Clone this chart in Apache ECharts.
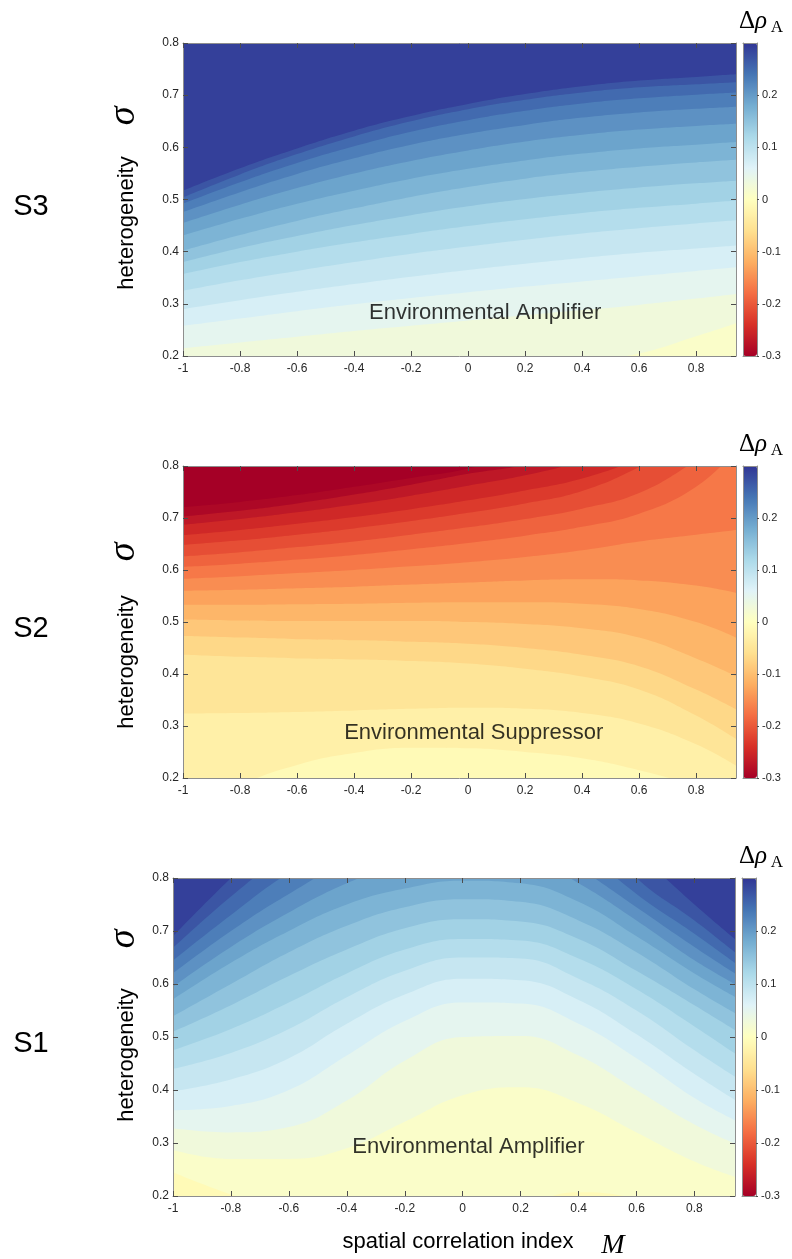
<!DOCTYPE html>
<html>
<head>
<meta charset="utf-8">
<script src="https://cdn.jsdelivr.net/npm/echarts@6/dist/echarts.min.js"></script>
<style>
  html, body { margin: 0; padding: 0; background: #fff; }
  #chart { width: 792px; height: 1259px; }
</style>
</head>
<body>
<div id="chart"></div>
<script>
// spatial correlation index M where each contour line is sampled
const mValues = [-1, -0.8, -0.6, -0.4, -0.2, 0, 0.2, 0.4, 0.6, 0.8, 0.94];
const xTicks = [-1, -0.8, -0.6, -0.4, -0.2, 0, 0.2, 0.4, 0.6, 0.8];
const yTicks = [0.2, 0.3, 0.4, 0.5, 0.6, 0.7, 0.8];
const cbTicks = [-0.3, -0.2, -0.1, 0, 0.1, 0.2];

// S3: contour levels of delta rho_A and the sigma of each level line at mValues
const s3Levels = [0.02, 0.04, 0.06, 0.08, 0.10, 0.12, 0.14, 0.16, 0.18, 0.20, 0.22, 0.24, 0.26, 0.28];
const s3Lines = [
  [0.08, 0.10, 0.12, 0.14, 0.155, 0.17, 0.18, 0.19, 0.205, 0.238, 0.263],
  [0.215, 0.226, 0.237, 0.248, 0.258, 0.268, 0.278, 0.288, 0.298, 0.31, 0.319],
  [0.258, 0.272, 0.286, 0.299, 0.311, 0.322, 0.333, 0.343, 0.353, 0.363, 0.370],
  [0.290, 0.307, 0.323, 0.338, 0.352, 0.365, 0.377, 0.388, 0.398, 0.406, 0.412],
  [0.325, 0.345, 0.363, 0.38, 0.396, 0.41, 0.423, 0.435, 0.445, 0.454, 0.460],
  [0.357, 0.38, 0.40, 0.418, 0.434, 0.449, 0.462, 0.474, 0.484, 0.492, 0.498],
  [0.380, 0.407, 0.43, 0.451, 0.47, 0.487, 0.501, 0.513, 0.523, 0.531, 0.536],
  [0.402, 0.432, 0.459, 0.483, 0.505, 0.524, 0.54, 0.553, 0.563, 0.571, 0.576],
  [0.431, 0.463, 0.492, 0.517, 0.54, 0.559, 0.575, 0.588, 0.598, 0.605, 0.610],
  [0.455, 0.49, 0.522, 0.55, 0.574, 0.594, 0.611, 0.624, 0.634, 0.641, 0.645],
  [0.476, 0.514, 0.549, 0.579, 0.605, 0.626, 0.643, 0.657, 0.667, 0.674, 0.678],
  [0.492, 0.533, 0.57, 0.602, 0.63, 0.652, 0.67, 0.684, 0.694, 0.701, 0.705],
  [0.504, 0.548, 0.587, 0.621, 0.65, 0.673, 0.691, 0.705, 0.715, 0.721, 0.725],
  [0.517, 0.56, 0.598, 0.632, 0.66, 0.683, 0.702, 0.717, 0.728, 0.735, 0.740]
];

// S2: levels run downwards, region above each line is more negative
const s2Levels = [-0.02, -0.04, -0.06, -0.08, -0.10, -0.12, -0.14, -0.16, -0.18, -0.20, -0.22, -0.24, -0.26, -0.28, -0.30];
const s2Lines = [
  [0.12, 0.185, 0.225, 0.248, 0.258, 0.257, 0.25, 0.238, 0.215, 0.185, 0.16],
  [0.324, 0.325, 0.327, 0.33, 0.333, 0.335, 0.333, 0.325, 0.305, 0.265, 0.224],
  [0.437, 0.433, 0.43, 0.428, 0.425, 0.42, 0.41, 0.395, 0.37, 0.32, 0.275],
  [0.473, 0.47, 0.467, 0.465, 0.462, 0.458, 0.45, 0.437, 0.415, 0.37, 0.332],
  [0.505, 0.503, 0.502, 0.502, 0.502, 0.5, 0.496, 0.488, 0.47, 0.43, 0.396],
  [0.533, 0.533, 0.534, 0.535, 0.537, 0.538, 0.538, 0.535, 0.525, 0.50, 0.470],
  [0.56, 0.562, 0.565, 0.568, 0.572, 0.576, 0.58, 0.582, 0.58, 0.57, 0.556],
  [0.583, 0.588, 0.594, 0.60, 0.607, 0.615, 0.625, 0.638, 0.655, 0.668, 0.677],
  [0.606, 0.612, 0.62, 0.629, 0.64, 0.652, 0.666, 0.683, 0.708, 0.76, 0.83],
  [0.626, 0.634, 0.644, 0.655, 0.668, 0.682, 0.698, 0.718, 0.748, 0.81, 0.86],
  [0.648, 0.657, 0.668, 0.68, 0.694, 0.71, 0.728, 0.752, 0.798, 0.86, 0.92],
  [0.667, 0.677, 0.689, 0.702, 0.717, 0.734, 0.753, 0.776, 0.815, 0.87, 0.93],
  [0.687, 0.698, 0.711, 0.726, 0.743, 0.762, 0.782, 0.81, 0.85, 0.9, 0.95],
  [0.703, 0.714, 0.728, 0.745, 0.764, 0.785, 0.802, 0.83, 0.87, 0.93, 1.0],
  [0.721, 0.731, 0.744, 0.76, 0.777, 0.795, 0.83, 0.88, 0.94, 1.0, 1.0]
];

// S1
const s1Levels = [0.00, 0.02, 0.04, 0.06, 0.08, 0.10, 0.12, 0.14, 0.16, 0.18, 0.20, 0.22, 0.24, 0.26, 0.28];
const s1Lines = [
  [0.245, 0.203, 0.17, 0.15, 0.14, 0.15, 0.18, 0.207, 0.195, 0.16, 0.14],
  [0.287, 0.27, 0.27, 0.29, 0.34, 0.39, 0.405, 0.375, 0.32, 0.265, 0.236],
  [0.328, 0.32, 0.33, 0.38, 0.455, 0.5, 0.502, 0.465, 0.40, 0.335, 0.299],
  [0.362, 0.37, 0.40, 0.465, 0.53, 0.565, 0.563, 0.525, 0.46, 0.385, 0.343],
  [0.398, 0.42, 0.46, 0.525, 0.58, 0.61, 0.607, 0.57, 0.505, 0.43, 0.381],
  [0.44, 0.47, 0.515, 0.575, 0.625, 0.65, 0.648, 0.61, 0.55, 0.475, 0.425],
  [0.475, 0.515, 0.565, 0.62, 0.665, 0.685, 0.682, 0.648, 0.59, 0.52, 0.469],
  [0.51, 0.56, 0.615, 0.665, 0.705, 0.722, 0.718, 0.685, 0.625, 0.56, 0.513],
  [0.539, 0.60, 0.66, 0.71, 0.745, 0.76, 0.755, 0.72, 0.66, 0.59, 0.545],
  [0.571, 0.64, 0.70, 0.75, 0.78, 0.795, 0.79, 0.755, 0.69, 0.62, 0.576],
  [0.595, 0.67, 0.735, 0.79, 0.83, 0.85, 0.845, 0.79, 0.72, 0.645, 0.60],
  [0.62, 0.70, 0.77, 0.83, 0.87, 0.9, 0.89, 0.82, 0.745, 0.67, 0.62],
  [0.644, 0.73, 0.81, 0.87, 0.92, 0.95, 0.94, 0.86, 0.77, 0.695, 0.64],
  [0.668, 0.765, 0.85, 0.92, 0.97, 1.0, 0.98, 0.92, 0.8, 0.72, 0.66],
  [0.69, 0.80, 0.9, 0.95, 1.0, 1.0, 1.0, 0.95, 0.85, 0.75, 0.685]
];

const annotationText = ['Environmental Amplifier', 'Environmental Suppressor', 'Environmental Amplifier'];
const annotationM = [0.06, 0.02, 0.02];
const annotationSigma = [0.282, 0.287, 0.292];

// RdYlBu, red for -0.3 to blue for +0.3
const cbMin = -0.3, cbMax = 0.3;
const palette = ['#a50026', '#d73027', '#f46d43', '#fdae61', '#fee090', '#ffffbf',
                 '#e0f3f8', '#abd9e9', '#74add1', '#4575b4', '#313695'];

function hexRgb(h) {
  return [1, 3, 5].map(i => parseInt(h.slice(i, i + 2), 16));
}
function cmap(v) {
  const t = Math.max(0, Math.min(1, (v - cbMin) / (cbMax - cbMin))) * (palette.length - 1);
  const i = Math.min(palette.length - 2, Math.floor(t));
  const f = t - i;
  const a = hexRgb(palette[i]), b = hexRgb(palette[i + 1]);
  return 'rgb(' + a.map((c, j) => Math.round(c + (b[j] - c) * f)).join(',') + ')';
}

const sans = 'Liberation Sans, Arial, Helvetica, sans-serif';
const serif = 'Liberation Serif, Times New Roman, serif';
const frameColor = '#8e8e8e';
const tickColor = '#4d4d4d';
const labelColor = '#262626';

const panels = [
  { name: 'S3', levels: s3Levels, lines: s3Lines, dir: 1, left: 183, top: 43, width: 553, height: 313, cbLeft: 743,
    labelY: 207, hetY: 223, sigY: 116 },
  { name: 'S2', levels: s2Levels, lines: s2Lines, dir: -1, left: 183, top: 466, width: 553, height: 312, cbLeft: 743,
    labelY: 629, hetY: 662, sigY: 552 },
  { name: 'S1', levels: s1Levels, lines: s1Lines, dir: 1, left: 173, top: 878, width: 562, height: 318, cbLeft: 742,
    labelY: 1044, hetY: 1055, sigY: 939 }
];

const grid = [], xAxis = [], yAxis = [], series = [], visualMap = [], graphic = [];

function frame(gi, xr, yr) {
  const xi = xAxis.length, yi = yAxis.length;
  ['bottom', 'top'].forEach((pos, k) => {
    xAxis.push({
      gridIndex: gi, type: 'value', min: xr[0], max: xr[1], position: pos, z: 6,
      axisLine: { show: true, onZero: false, lineStyle: { color: frameColor, width: 1 } },
      axisTick: { show: true, inside: true, length: 5, customValues: xTicks, lineStyle: { color: tickColor } },
      axisLabel: k === 0
        ? { show: true, customValues: xTicks, color: labelColor, fontSize: 12, fontFamily: sans, margin: 7 }
        : { show: false },
      splitLine: { show: false }
    });
  });
  ['left', 'right'].forEach((pos, k) => {
    yAxis.push({
      gridIndex: gi, type: 'value', min: yr[0], max: yr[1], position: pos, z: 6,
      axisLine: { show: true, onZero: false, lineStyle: { color: frameColor, width: 1 } },
      axisTick: { show: true, inside: true, length: 5, customValues: yTicks, lineStyle: { color: tickColor } },
      axisLabel: k === 0
        ? { show: true, customValues: yTicks, color: labelColor, fontSize: 12, fontFamily: sans, margin: 4 }
        : { show: false },
      splitLine: { show: false }
    });
  });
  return [xi, yi];
}

function text(x, y, str, size, family, extra) {
  graphic.push(Object.assign({
    type: 'text', x: x, y: y, silent: true,
    style: Object.assign({
      text: str, fontSize: size, fontFamily: family, fill: '#000',
      textAlign: 'center', textVerticalAlign: 'middle'
    }, extra && extra.style)
  }, extra && extra.el));
}

panels.forEach((p, pi) => {
  const gi = grid.length;
  grid.push({
    left: p.left, top: p.top, width: p.width, height: p.height,
    show: true, borderWidth: 0, backgroundColor: cmap(p.levels[0] - p.dir * 0.01),
    containLabel: false, outerBoundsMode: 'none'
  });
  const [xi, yi] = frame(gi, [-1, 0.94], [0.2, 0.8]);

  p.lines.forEach((sig, k) => {
    series.push({
      type: 'line', xAxisIndex: xi, yAxisIndex: yi,
      data: mValues.map((m, i) => [m, sig[i]]),
      smooth: 0.45, symbol: 'none', silent: true, clip: true,
      lineStyle: { width: 0, opacity: 0 },
      areaStyle: { color: cmap(p.levels[k] + p.dir * 0.01), opacity: 1, origin: 'end' },
      z: 2
    });
  });

  series.push({
    type: 'scatter', xAxisIndex: xi, yAxisIndex: yi, silent: true, z: 4,
    symbolSize: 0,
    data: [[annotationM[pi], annotationSigma[pi]]],
    label: {
      show: true, position: 'inside', formatter: annotationText[pi],
      color: '#000', fontSize: 22, fontFamily: sans
    }
  });

  // colour bar
  const cg = grid.length;
  grid.push({ left: p.cbLeft, top: p.top, width: 14, height: p.height, show: false, containLabel: false, outerBoundsMode: 'none' });
  const cbX = xAxis.length;
  ['bottom', 'top'].forEach(pos => xAxis.push({
    gridIndex: cg, type: 'value', min: 0, max: 1, position: pos, z: 6,
    axisLine: { show: true, onZero: false, lineStyle: { color: frameColor } },
    axisTick: { show: false }, axisLabel: { show: false }, splitLine: { show: false }
  }));
  const cbY = yAxis.length;
  yAxis.push({
    gridIndex: cg, type: 'value', min: cbMin, max: cbMax, position: 'right', z: 6,
    axisLine: { show: true, onZero: false, lineStyle: { color: frameColor } },
    axisTick: { show: true, inside: false, length: 2, customValues: cbTicks, lineStyle: { color: tickColor } },
    axisLabel: { show: true, customValues: cbTicks, color: labelColor, fontSize: 11, fontFamily: sans, margin: 5 },
    splitLine: { show: false }
  });
  yAxis.push({
    gridIndex: cg, type: 'value', min: cbMin, max: cbMax, position: 'left', z: 6,
    axisLine: { show: true, onZero: false, lineStyle: { color: frameColor } },
    axisTick: { show: false }, axisLabel: { show: false }, splitLine: { show: false }
  });
  const dummy = series.length;
  series.push({ type: 'scatter', xAxisIndex: cbX, yAxisIndex: cbY, data: [], silent: true });
  visualMap.push({
    type: 'continuous', seriesIndex: dummy, min: cbMin, max: cbMax,
    calculable: false, orient: 'vertical', left: p.cbLeft, top: p.top,
    itemWidth: 14, itemHeight: p.height, padding: 0, text: null,
    inRange: { color: palette }, z: 4
  });

  // panel name, y label and colour bar title
  text(31, p.labelY, p.name, 29, sans);
  text(127, p.hetY, 'heterogeneity', 22, sans, { el: { rotation: Math.PI / 2 } });
  text(124, p.sigY, 'σ', 38, serif, { el: { rotation: Math.PI / 2 }, style: { fontStyle: 'italic' } });
  text(747, p.top - 22, 'Δ', 25, serif);
  text(761, p.top - 22, 'ρ', 25, serif, { style: { fontStyle: 'italic' } });
  text(777, p.top - 15, 'A', 17, serif);
});

// x axis title of the bottom panel
text(458, 1242, 'spatial correlation index', 22, sans);
text(613, 1246, 'M', 28, serif, { style: { fontStyle: 'italic' } });

const chart = echarts.init(document.getElementById('chart'));
chart.setOption({
  animation: false,
  backgroundColor: '#fff',
  grid, xAxis, yAxis, series, visualMap, graphic
});
</script>
</body>
</html>
